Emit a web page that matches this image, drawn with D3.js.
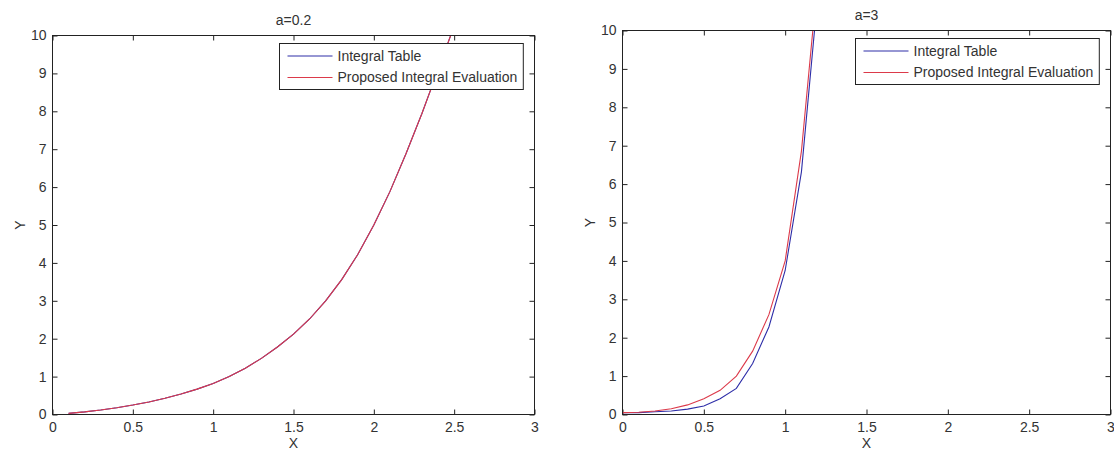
<!DOCTYPE html>
<html lang="en">
<head>
  <meta charset="UTF-8">
  <title>Integral Table vs Proposed Integral Evaluation</title>
  <script src="https://d3js.org/d3.v7.min.js"></script>
  <style>
    body {
      margin: 0;
      background: #fff;
    }
    svg {
      display: block;
      font-family: "Liberation Sans", Arial, sans-serif;
    }
    .tick text {
      font-size: 14px;
      fill: #333;
    }
    .label {
      font-size: 14px;
      fill: #333;
    }
  </style>
</head>
<body>
  <svg width="1114" height="452"></svg>

  <script>
    // a=0.2 panel
    const leftX = [0.1, 0.2, 0.3, 0.4, 0.5, 0.6, 0.7, 0.8, 0.9, 1.0, 1.1, 1.2, 1.3,
                   1.4, 1.5, 1.6, 1.7, 1.8, 1.9, 2.0, 2.1, 2.2, 2.3, 2.4, 2.5];
    const leftTable = [0.03, 0.07, 0.12, 0.18, 0.25, 0.33, 0.43, 0.54, 0.67, 0.82, 1.0, 1.22, 1.48,
                       1.78, 2.12, 2.52, 3.0, 3.56, 4.22, 5.0, 5.88, 6.88, 7.95, 9.1, 10.25];
    const leftProposed = [0.03, 0.07, 0.12, 0.18, 0.25, 0.33, 0.43, 0.54, 0.67, 0.82, 1.0, 1.22, 1.48,
                          1.78, 2.12, 2.52, 3.0, 3.56, 4.22, 5.0, 5.88, 6.88, 7.95, 9.1, 10.25];

    // a=3 panel
    const rightX = [0, 0.1, 0.2, 0.3, 0.4, 0.5, 0.6, 0.7, 0.8, 0.9, 1.0, 1.1, 1.2];
    const rightTable = [0.05, 0.05, 0.07, 0.09, 0.14, 0.22, 0.41, 0.68, 1.33, 2.28, 3.75, 6.32, 10.9];
    const rightProposed = [0.05, 0.06, 0.09, 0.15, 0.25, 0.41, 0.63, 1.0, 1.65, 2.6, 4.0, 6.86, 11.35];

    const xTicks = [0, 0.5, 1, 1.5, 2, 2.5, 3];
    const yTicks = [0, 1, 2, 3, 4, 5, 6, 7, 8, 9, 10];
    const seriesNames = ["Integral Table", "Proposed Integral Evaluation"];
    const seriesColors = ["#2e2ea8", "#dc3a4a"];

    const svg = d3.select("svg");

    const panels = [
      {title: "a=0.2", xs: leftX, ys: [leftTable, leftProposed],
       left: 52.5, right: 534.5, top: 35.5, bottom: 414.5},
      {title: "a=3", xs: rightX, ys: [rightTable, rightProposed],
       left: 622.5, right: 1110.5, top: 30.5, bottom: 414.5}
    ];

    panels.forEach((p, pi) => {
      const x = d3.scaleLinear().domain([0, 3]).range([p.left, p.right]);
      const y = d3.scaleLinear().domain([0, 10]).range([p.bottom, p.top]);
      const g = svg.append("g");

      g.append("clipPath").attr("id", "clip" + pi)
        .append("rect")
        .attr("x", p.left).attr("y", p.top)
        .attr("width", p.right - p.left).attr("height", p.bottom - p.top);

      const fmt = d3.format("~g");

      g.append("g")
        .attr("transform", `translate(0,${p.bottom})`)
        .call(d3.axisBottom(x).tickValues(xTicks).tickFormat(fmt)
          .tickSizeInner(-5).tickSizeOuter(0).tickPadding(8));
      g.append("g")
        .attr("transform", `translate(0,${p.top})`)
        .call(d3.axisTop(x).tickValues(xTicks).tickFormat("")
          .tickSizeInner(-5).tickSizeOuter(0));
      g.append("g")
        .attr("transform", `translate(${p.left},0)`)
        .call(d3.axisLeft(y).tickValues(yTicks).tickFormat(fmt)
          .tickSizeInner(-5).tickSizeOuter(0).tickPadding(6));
      g.append("g")
        .attr("transform", `translate(${p.right},0)`)
        .call(d3.axisRight(y).tickValues(yTicks).tickFormat("")
          .tickSizeInner(-5).tickSizeOuter(0));

      g.selectAll(".domain").remove();
      g.selectAll(".tick line").attr("stroke", "#222");
      g.selectAll(".tick text").attr("font-family", null).attr("font-size", null);

      const line = d3.line()
        .x((d, i) => x(p.xs[i]))
        .y(d => y(d));

      g.append("g").attr("clip-path", `url(#clip${pi})`)
        .selectAll("path")
        .data(p.ys)
        .join("path")
        .attr("fill", "none")
        .attr("stroke", (d, i) => seriesColors[i])
        .attr("stroke-width", 1.1)
        .attr("d", line);

      // box
      g.append("rect")
        .attr("x", p.left).attr("y", p.top)
        .attr("width", p.right - p.left).attr("height", p.bottom - p.top)
        .attr("fill", "none").attr("stroke", "#222");

      // labels
      const cx = (p.left + p.right) / 2;
      g.append("text").attr("class", "label")
        .attr("x", cx).attr("y", p.top - 11)
        .attr("text-anchor", "middle").text(p.title);
      g.append("text").attr("class", "label")
        .attr("x", cx).attr("y", 448)
        .attr("text-anchor", "middle").text("X");
      g.append("text").attr("class", "label")
        .attr("transform", `translate(${p.left - 32},${(p.top + p.bottom) / 2}) rotate(-90)`)
        .attr("text-anchor", "middle").attr("dy", "0.35em").text("Y");

      // legend
      const lg = g.append("g");
      const box = lg.append("rect").attr("fill", "#fff").attr("stroke", "#222");
      const rows = lg.selectAll("g.row")
        .data(seriesNames)
        .join("g").attr("class", "row");
      rows.append("line")
        .attr("x1", 8).attr("x2", 53)
        .attr("y1", (d, i) => 12.5 + i * 21.5).attr("y2", (d, i) => 12.5 + i * 21.5)
        .attr("stroke", (d, i) => seriesColors[i]).attr("stroke-width", 1.1);
      rows.append("text").attr("class", "label")
        .attr("x", 58).attr("y", (d, i) => 12.5 + i * 21.5).attr("dy", "0.35em")
        .text(d => d);
      const w = lg.node().getBBox().width + 14;
      const h = 46;
      box.attr("x", 0).attr("y", 0).attr("width", w).attr("height", h);
      lg.attr("transform", `translate(${Math.round(p.right - 12 - w) + 0.5},${p.top + 8})`);
    });
  </script>
</body>
</html>
